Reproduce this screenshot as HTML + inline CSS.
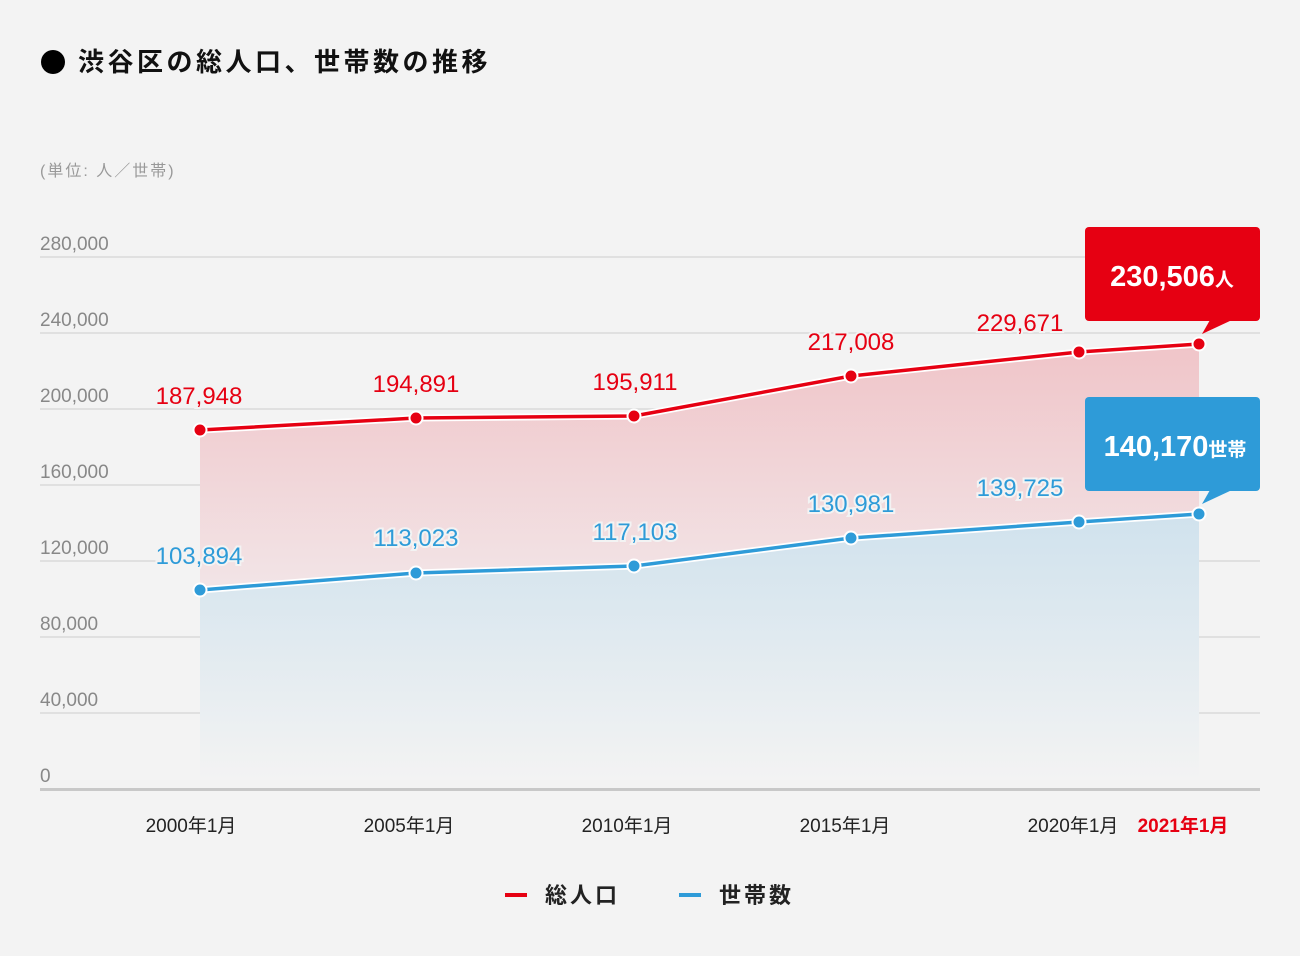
<!DOCTYPE html>
<html><head><meta charset="utf-8"><style>
html,body{margin:0;padding:0;background:#f3f3f3;}
svg{display:block;}
text{font-family:"Liberation Sans","Noto Sans CJK JP",sans-serif;}
.num{font-family:"Liberation Sans Narrow","Liberation Sans","Noto Sans CJK JP",sans-serif;}
</style></head><body>
<svg width="1300" height="956" viewBox="0 0 1300 956" xmlns="http://www.w3.org/2000/svg">
<defs>
<linearGradient id="redg" gradientUnits="userSpaceOnUse" x1="0" y1="340" x2="0" y2="600">
<stop offset="0" stop-color="#f0c4c8"/><stop offset="1" stop-color="#f2e6e8"/>
</linearGradient>
<linearGradient id="blueg" gradientUnits="userSpaceOnUse" x1="0" y1="514" x2="0" y2="780">
<stop offset="0" stop-color="#d0e2ed"/><stop offset="1" stop-color="#f3f3f3"/>
</linearGradient>
</defs>
<rect width="1300" height="956" fill="#f3f3f3"/>
<circle cx="53" cy="62" r="12" fill="#000"/>
<text x="78" y="71" font-size="26" font-weight="bold" fill="#111" letter-spacing="3.5">渋谷区の総人口、世帯数の推移</text>
<text x="40" y="176" font-size="16" fill="#999" letter-spacing="2">(単位: 人／世帯)</text>
<g stroke="#d9d9d9" stroke-width="1.5">
<line x1="40" y1="257" x2="1260" y2="257"/><line x1="40" y1="333" x2="1260" y2="333"/>
<line x1="40" y1="409" x2="1260" y2="409"/><line x1="40" y1="485" x2="1260" y2="485"/>
<line x1="40" y1="561" x2="1260" y2="561"/><line x1="40" y1="637" x2="1260" y2="637"/>
<line x1="40" y1="713" x2="1260" y2="713"/>
</g>
<g font-size="19" fill="#888">
<text x="40" y="250" class="num">280,000</text><text x="40" y="326" class="num">240,000</text>
<text x="40" y="402" class="num">200,000</text><text x="40" y="478" class="num">160,000</text>
<text x="40" y="554" class="num">120,000</text><text x="40" y="630" class="num">80,000</text>
<text x="40" y="706" class="num">40,000</text><text x="40" y="782" class="num">0</text>
</g>
<polygon points="200,430 416,418 634,416 851,376 1079,352 1199,344 1199,590 200,590" fill="url(#redg)"/>
<polygon points="200,590 416,573 634,566 851,538 1079,522 1199,514 1199,780 200,780" fill="url(#blueg)"/>
<rect x="40" y="788" width="1220" height="3" fill="#c8c8c8"/>
<polyline points="200,430 416,418 634,416 851,376 1079,352 1199,344" fill="none" stroke="#fff" stroke-width="7"/>
<polyline points="200,430 416,418 634,416 851,376 1079,352 1199,344" fill="none" stroke="#e60012" stroke-width="3.5"/>
<polyline points="200,590 416,573 634,566 851,538 1079,522 1199,514" fill="none" stroke="#fff" stroke-width="7"/>
<polyline points="200,590 416,573 634,566 851,538 1079,522 1199,514" fill="none" stroke="#2e9bd8" stroke-width="3.5"/>
<g fill="#e60012" stroke="#fff" stroke-width="2">
<circle cx="200" cy="430" r="6.5"/><circle cx="416" cy="418" r="6.5"/><circle cx="634" cy="416" r="6.5"/>
<circle cx="851" cy="376" r="6.5"/><circle cx="1079" cy="352" r="6.5"/><circle cx="1199" cy="344" r="6.5"/>
</g>
<g fill="#2e9bd8" stroke="#fff" stroke-width="2">
<circle cx="200" cy="590" r="6.5"/><circle cx="416" cy="573" r="6.5"/><circle cx="634" cy="566" r="6.5"/>
<circle cx="851" cy="538" r="6.5"/><circle cx="1079" cy="522" r="6.5"/><circle cx="1199" cy="514" r="6.5"/>
</g>
<g font-size="24" fill="#e60012" text-anchor="middle" stroke="#f3f3f3" stroke-width="4" paint-order="stroke">
<text x="199" y="404" class="num">187,948</text><text x="416" y="392" class="num">194,891</text>
<text x="635" y="390" class="num">195,911</text><text x="851" y="350" class="num">217,008</text>
<text x="1020" y="331" class="num">229,671</text>
</g>
<g font-size="24" fill="#2e9bd8" text-anchor="middle" stroke="#f3f3f3" stroke-width="4" paint-order="stroke">
<text x="199" y="564" class="num">103,894</text><text x="416" y="546" class="num">113,023</text>
<text x="635" y="540" class="num">117,103</text><text x="851" y="512" class="num">130,981</text>
<text x="1020" y="496" class="num">139,725</text>
</g>
<rect x="1085" y="227" width="175" height="94" rx="4" fill="#e60012"/>
<polygon points="1210,320 1232,320 1202,334" fill="#e60012"/>
<text x="1172" y="286" text-anchor="middle" fill="#fff" font-weight="bold" font-size="29" class="num">230,506<tspan font-size="19">人</tspan></text>
<rect x="1085" y="397" width="175" height="94" rx="4" fill="#2e9bd8"/>
<polygon points="1210,490 1232,490 1202,504" fill="#2e9bd8"/>
<text x="1175" y="456" text-anchor="middle" fill="#fff" font-weight="bold" font-size="29" class="num">140,170<tspan font-size="19">世帯</tspan></text>
<g font-size="19" fill="#222" text-anchor="middle">
<text x="191" y="832">2000年1月</text><text x="409" y="832">2005年1月</text>
<text x="627" y="832">2010年1月</text><text x="845" y="832">2015年1月</text>
<text x="1073" y="832">2020年1月</text>
<text x="1183" y="832" fill="#e60012" font-weight="bold">2021年1月</text>
</g>
<rect x="505" y="893" width="22" height="4" fill="#e60012"/>
<text x="545" y="903" font-size="22" font-weight="bold" fill="#222" letter-spacing="3">総人口</text>
<rect x="679" y="893" width="22" height="4" fill="#2e9bd8"/>
<text x="719" y="903" font-size="22" font-weight="bold" fill="#222" letter-spacing="3">世帯数</text>
</svg>
</body></html>
